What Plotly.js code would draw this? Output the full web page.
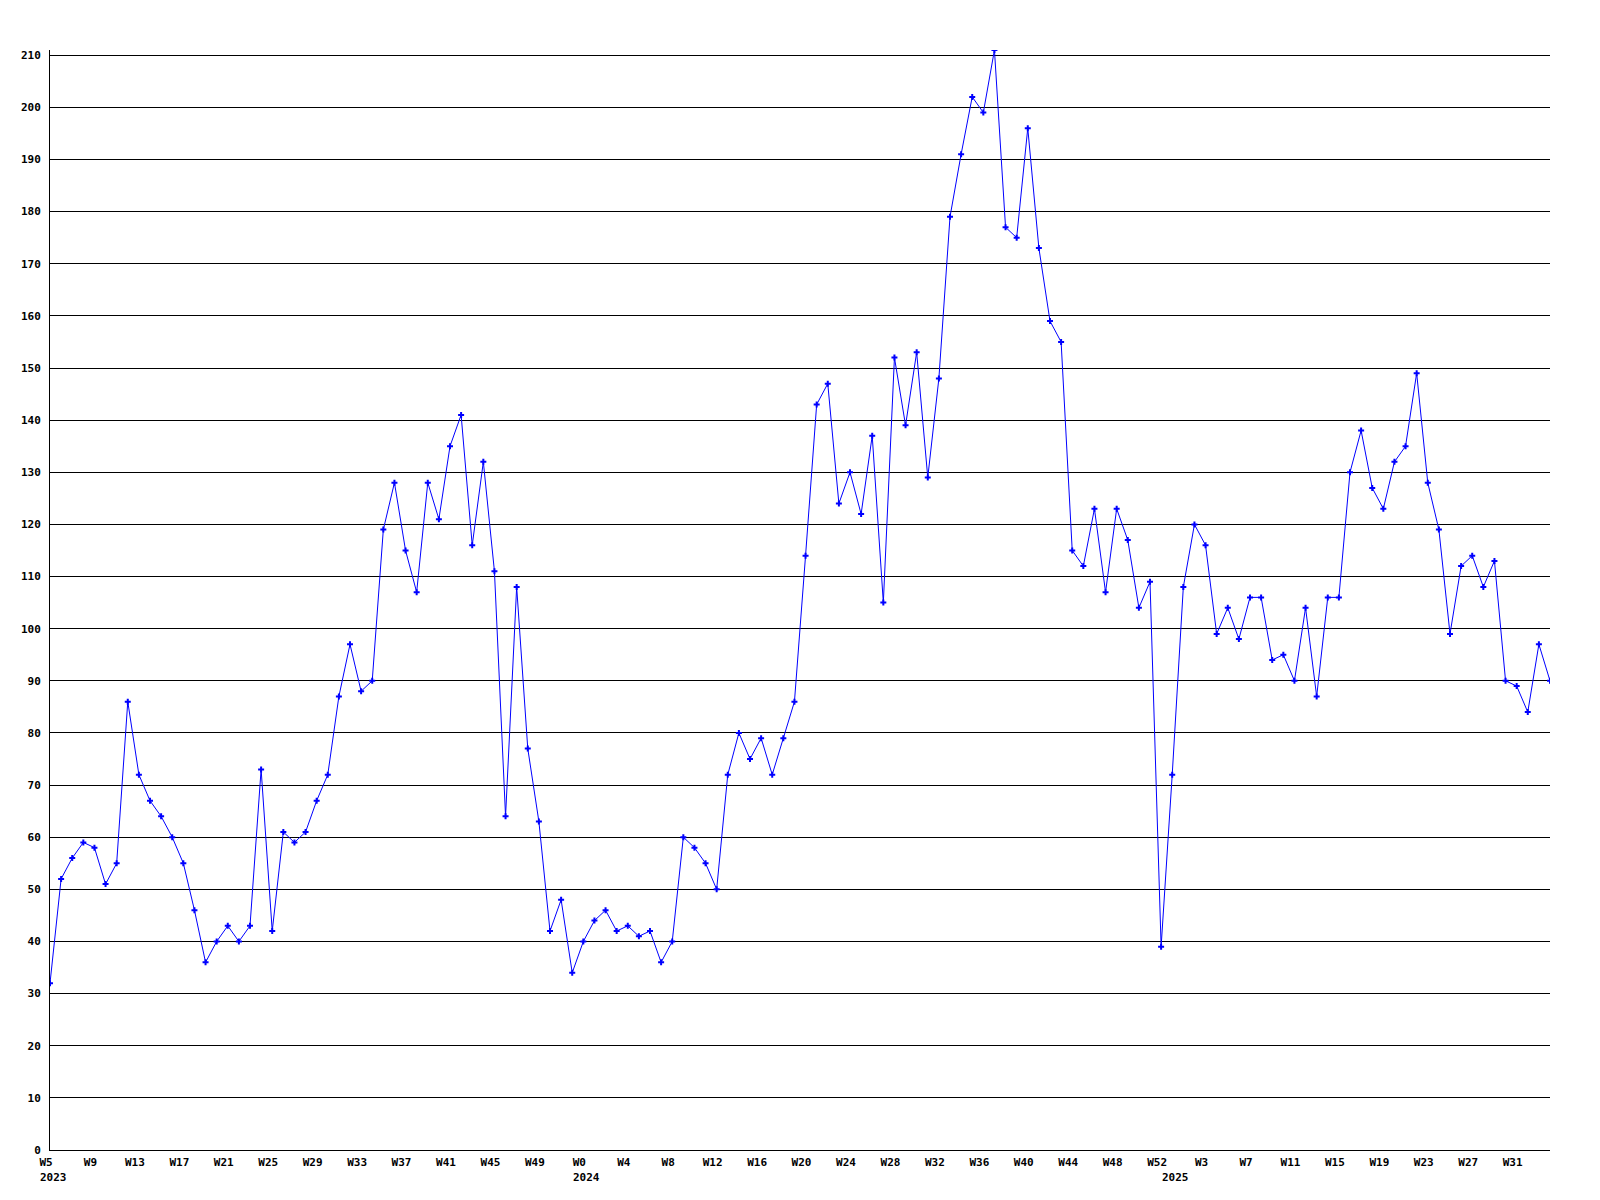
<!DOCTYPE html>
<html>
<head>
<meta charset="utf-8">
<script src="https://cdn.plot.ly/plotly-3.0.1.min.js"></script>
<style>
  html, body { margin: 0; padding: 0; background: #ffffff; }
  #chart { width: 1600px; height: 1200px; }
</style>
</head>
<body>
<div id="chart"></div>
<script>
// ---- data ----
const years = [2023, 2024, 2025];
const firstWeek = [5, 0, 0];
const lastWeek = [52, 52, 34];

const values2023 = [32, 52, 56, 59, 58, 51, 55, 86, 72, 67, 64, 60, 55, 46, 36, 40,
  43, 40, 43, 73, 42, 61, 59, 61, 67, 72, 87, 97, 88, 90, 119, 128,
  115, 107, 128, 121, 135, 141, 116, 132, 111, 64, 108, 77, 63, 42, 48, 34];
const values2024 = [40, 44, 46, 42, 43, 41, 42, 36, 40, 60, 58, 55, 50, 72, 80, 75,
  79, 72, 79, 86, 114, 143, 147, 124, 130, 122, 137, 105, 152, 139, 153, 129,
  148, 179, 191, 202, 199, 211, 177, 175, 196, 173, 159, 155, 115, 112, 123, 107,
  123, 117, 104, 109, 39];
const values2025 = [72, 108, 120, 116, 99, 104, 98, 106, 106, 94, 95, 90, 104, 87, 106, 106,
  130, 138, 127, 123, 132, 135, 149, 128, 119, 99, 112, 114, 108, 113, 90, 89,
  84, 97, 90];

const yTickStep = 10;
const labelEvery = 4;

// ---- build categories ----
const valuesByYear = [values2023, values2024, values2025];
const cats = [], weekText = [], vals = [], yearStarts = [];
years.forEach((yr, k) => {
  yearStarts.push({ year: yr, cat: yr + '-W' + firstWeek[k] });
  for (let w = firstWeek[k], j = 0; w <= lastWeek[k]; w++, j++) {
    cats.push(yr + '-W' + w);
    weekText.push('W' + w);
    vals.push(valuesByYear[k][j]);
  }
});
const tickvals = cats.filter((_, i) => i % labelEvery === 0);
const ticktext = weekText.filter((_, i) => i % labelEvery === 0);

const fontFam = '"DejaVu Sans Mono", "Liberation Mono", monospace';

const trace = {
  x: cats,
  y: vals,
  type: 'scatter',
  mode: 'lines+markers',
  line: { color: '#0000ff', width: 1 },
  marker: { color: '#0000ff', symbol: 'cross', size: 5 },
  hoverinfo: 'x+y'
};

const annotations = yearStarts.map(s => ({
  x: s.cat, xref: 'x',
  y: 0, yref: 'paper',
  text: String(s.year),
  showarrow: false,
  xanchor: 'left', yanchor: 'top',
  xshift: -12, yshift: -19,
  font: { family: fontFam, size: 11, color: '#000000', weight: 'bold' }
}));

const layout = {
  width: 1600, height: 1200,
  margin: { l: 50, r: 50, t: 50, b: 50 },
  paper_bgcolor: '#ffffff',
  plot_bgcolor: '#ffffff',
  showlegend: false,
  xaxis: {
    type: 'category',
    range: [0, cats.length - 1],
    tickmode: 'array',
    tickvals: tickvals,
    ticktext: ticktext,
    tickangle: 0,
    showgrid: false,
    zeroline: false,
    showline: true,
    linecolor: '#000000',
    linewidth: 1,
    ticks: '',
    ticklabelstandoff: 2,
    ticklabelshift: -4,
    tickfont: { family: fontFam, size: 11, color: '#000000', weight: 'bold' }
  },
  yaxis: {
    range: [0, 211],
    dtick: yTickStep,
    tick0: 0,
    showgrid: true,
    gridcolor: '#000000',
    gridwidth: 1,
    zeroline: false,
    showline: true,
    linecolor: '#000000',
    linewidth: 1,
    ticks: '',
    ticklabelstandoff: 6,
    tickfont: { family: fontFam, size: 11, color: '#000000', weight: 'bold' }
  },
  annotations: annotations
};

Plotly.newPlot('chart', [trace], layout, { displayModeBar: false, staticPlot: true });
</script>
</body>
</html>
